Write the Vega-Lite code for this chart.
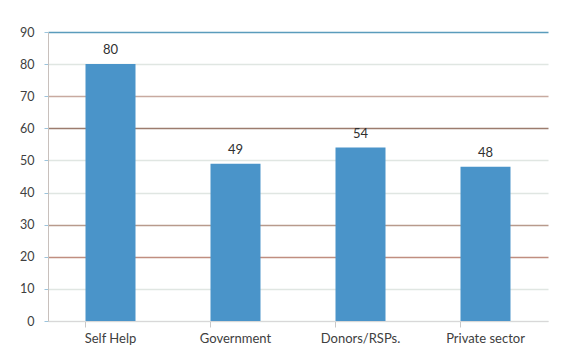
{
  "$schema": "https://vega.github.io/schema/vega-lite/v6.json",
  "autosize": "none",
  "padding": {"left": 48, "top": 32, "right": 13, "bottom": 31},
  "width": 500,
  "height": 289,
  "background": "white",
  "data": {"values": [
    {"category": "Self Help", "value": 80},
    {"category": "Government", "value": 49},
    {"category": "Donors/RSPs.", "value": 54},
    {"category": "Private sector", "value": 48}
  ]},
  "config": {
    "view": {"stroke": null},
    "font": "Lato",
    "axis": {"labelFont": "Lato", "labelColor": "#404040", "labelFontSize": 12.5}
  },
  "encoding": {
    "x": {
      "field": "category", "type": "nominal", "sort": null,
      "scale": {"paddingInner": 0.6, "paddingOuter": 0.3},
      "axis": {
        "title": null, "labelAngle": 0, "bandPosition": 0,
        "domainColor": "#d8d8d8", "tickColor": "#c8c8c8", "tickSize": 6,
        "labelPadding": 5, "labelFontSize": 13
      }
    },
    "y": {
      "field": "value", "type": "quantitative",
      "scale": {"domain": [0, 90], "nice": false},
      "axis": {
        "title": null, "values": [0,10,20,30,40,50,60,70,80,90],
        "labelOverlap": false,
        "domainColor": "#c8c0bc", "tickColor": "#9cc4dc", "tickSize": 4,
        "labelPadding": 10,
        "gridColor": {
          "condition": [
            {"test": "datum.value === 90", "value": "#5a9cbc"},
            {"test": "datum.value === 70", "value": "#c8aaa0"},
            {"test": "datum.value === 60", "value": "#9c7c6e"},
            {"test": "datum.value === 30", "value": "#b89a8c"},
            {"test": "datum.value === 20", "value": "#c08e80"}
          ],
          "value": "#e0e6e2"
        },
        "gridWidth": 1.3
      }
    }
  },
  "layer": [
    {"mark": {"type": "bar", "color": "#4a94c9"}},
    {
      "mark": {"type": "text", "dy": -14, "fontSize": 13, "color": "#303030", "font": "Lato"},
      "encoding": {"text": {"field": "value", "type": "quantitative"}}
    }
  ]
}
